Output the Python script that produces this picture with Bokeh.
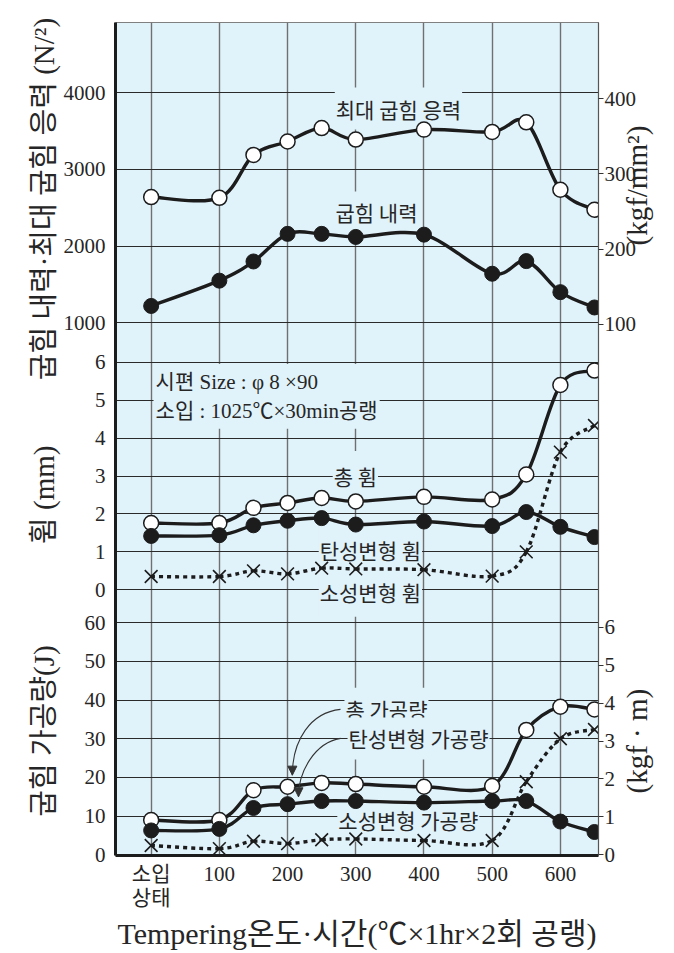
from bokeh.plotting import figure
from bokeh.models import Range1d, LinearAxis, FixedTicker, Label, Arrow, NormalHead
from bokeh.embed import file_html
from bokeh.resources import INLINE
import math

# ---------------- data ----------------
temps = [0, 100, 150, 200, 250, 300, 400, 500, 550, 600, 650]

max_bending_stress = [2640, 2630, 3190, 3365, 3540, 3390, 3520, 3490, 3615, 2735, 2475]   # N/mm2
bending_yield = [1220, 1550, 1800, 2160, 2160, 2120, 2150, 1640, 1805, 1400, 1200]        # N/mm2

total_defl = [1.76, 1.76, 2.16, 2.29, 2.42, 2.33, 2.45, 2.38, 3.04, 5.40, 5.78]            # mm
elastic_defl = [1.42, 1.44, 1.70, 1.82, 1.89, 1.72, 1.80, 1.68, 2.05, 1.66, 1.39]
plastic_defl = [0.35, 0.35, 0.50, 0.42, 0.57, 0.55, 0.53, 0.36, 1.00, 3.63, 4.33]

total_work = [9.0, 9.0, 16.7, 17.6, 18.6, 18.3, 17.6, 17.8, 32.3, 38.3, 37.6]              # J
elastic_work = [6.3, 6.7, 12.1, 13.1, 13.9, 13.9, 13.5, 13.9, 13.9, 8.6, 5.9]
plastic_work = [2.4, 1.6, 3.5, 2.9, 3.9, 4.1, 3.7, 3.7, 18.9, 30.0, 32.4]

x_ticks = [0, 100, 200, 300, 400, 500, 600]
x_tick_labels = ["소입\n상태", "100", "200", "300", "400", "500", "600"]
str_ticks = [1000, 2000, 3000, 4000]
mm_ticks = [0, 1, 2, 3, 4, 5, 6]
j_ticks = [0, 10, 20, 30, 40, 50, 60]
kgf_mm2_ticks = [100, 200, 300, 400]
kgf_m_ticks = [0, 1, 2, 3, 4, 5, 6]
KGF = 9.80665

# ---------------- layout / style ----------------
BG = "#e0f2fa"
INK = "#1c1c1c"
TXT = "#262626"
KR = "Noto Sans CJK KR"
SERIF = "Liberation Serif"
MIX = "Liberation Serif, Noto Sans CJK KR"
IS = "\u3000"   # ideographic space (does not collapse in SVG)
NB = "\u00a0"

# frame occupies canvas rows 22..855
FRAME_TOP, FRAME_BOTTOM = 22, 855
STR_RANGE = (-5948.0, 4917.0)
MM_RANGE = (-7.005, 14.956)
J_RANGE = (-0.18, 215.25)


def frac(v, rng):
    return round((v - rng[0]) / (rng[1] - rng[0]), 6)


def frac_px(y):  # canvas row -> fraction of frame height
    return round((FRAME_BOTTOM - y) / (FRAME_BOTTOM - FRAME_TOP), 6)


p = figure(width=674, height=953, output_backend="svg", toolbar_location=None,
           x_range=Range1d(-52.3, 655.9), y_range=Range1d(0, 1),
           min_border_left=115, min_border_right=76, min_border_top=FRAME_TOP,
           min_border_bottom=953 - FRAME_BOTTOM,
           background_fill_color=BG, border_fill_color="white",
           outline_line_color="#808080", outline_line_width=1)
p.extra_y_ranges = {"str": Range1d(*STR_RANGE), "mm": Range1d(*MM_RANGE), "J": Range1d(*J_RANGE)}

# left axis: three stacked scales
left_pos, left_lab = [], {}
for vals, rng in ((str_ticks, STR_RANGE), (mm_ticks, MM_RANGE), (j_ticks, J_RANGE)):
    for v in vals:
        f = frac(v, rng)
        left_pos.append(f)
        left_lab[f] = str(v)
ya = p.yaxis[0]
ya.ticker = FixedTicker(ticks=left_pos)
ya.major_label_overrides = left_lab
ya.axis_line_width = 3
ya.axis_line_color = INK
ya.major_tick_line_color = None
ya.minor_tick_line_color = None
ya.major_label_text_font = SERIF
ya.major_label_text_font_size = "21px"
ya.major_label_text_color = TXT
ya.major_label_standoff = 4
ya.axis_label = (IS + NB * 2 + "굽힘 가공량(J)" + IS * 3 + NB * 2 + "휨 (mm)" + IS * 2 + NB
                 + "굽힘 내력·최대 굽힘 응력 (N/²)")
ya.axis_label_text_font = MIX
ya.axis_label_text_font_size = "29px"
ya.axis_label_text_font_style = "normal"
ya.axis_label_text_color = TXT
ya.axis_label_standoff = 1

# right axis: kgf/mm2 (top) and kgf.m (bottom)
right_pos, right_lab = [], {}
for v in kgf_mm2_ticks:
    f = frac(v * KGF, STR_RANGE)
    right_pos.append(f)
    right_lab[f] = str(v)
for v in kgf_m_ticks:
    f = frac(v * KGF, J_RANGE)
    right_pos.append(f)
    right_lab[f] = str(v)
ra = LinearAxis(ticker=FixedTicker(ticks=right_pos), major_label_overrides=right_lab)
ra.axis_line_color = "#555555"
ra.axis_line_width = 1.2
ra.major_tick_out = 5
ra.major_tick_in = 0
ra.major_tick_line_color = "#333333"
ra.major_tick_line_width = 1.2
ra.minor_tick_line_color = None
ra.major_label_text_font = SERIF
ra.major_label_text_font_size = "21px"
ra.major_label_text_color = TXT
ra.major_label_standoff = 1
p.add_layout(ra, "right")

# right-hand unit titles (upright reading bottom-to-top), carried by a bare axis
unit_titles = ["(kgf" + NB + "·" + NB + "m)", "(kgf/mm²)"]
unit_title_start_rows = [793, 245]   # canvas row where each title begins
ut_pos = [frac_px(r) for r in unit_title_start_rows]
ra2 = LinearAxis(ticker=FixedTicker(ticks=ut_pos),
                 major_label_overrides={f: t for f, t in zip(ut_pos, unit_titles)})
ra2.axis_line_color = None
ra2.major_tick_line_color = None
ra2.minor_tick_line_color = None
ra2.major_label_orientation = math.pi / 2
ra2.major_label_text_font = MIX
ra2.major_label_text_font_size = "29px"
ra2.major_label_text_color = TXT
ra2.major_label_standoff = -8
p.add_layout(ra2, "right")

# x axis
xa = p.xaxis[0]
xa.ticker = FixedTicker(ticks=x_ticks)
xa.major_label_overrides = {t: l for t, l in zip(x_ticks, x_tick_labels)}
xa.axis_line_width = 3
xa.axis_line_color = INK
xa.major_tick_line_color = None
xa.minor_tick_line_color = None
xa.major_label_text_font = MIX
xa.major_label_text_font_size = "21px"
xa.major_label_text_color = TXT
xa.major_label_text_line_height = 1.0
xa.major_label_standoff = 0
xa.axis_label = "Tempering온도·시간(℃×1hr×2회 공랭)"
xa.axis_label_text_font = MIX
xa.axis_label_text_font_size = "30px"
xa.axis_label_text_font_style = "normal"
xa.axis_label_text_color = TXT
xa.axis_label_standoff = 4

# grids (drawn first so that text boxes can cover them)
p.ygrid.ticker = FixedTicker(ticks=left_pos)
p.ygrid.grid_line_color = "#2a2a2a"
p.ygrid.grid_line_width = 1
p.ygrid.level = "image"
p.xgrid.ticker = FixedTicker(ticks=x_ticks)
p.xgrid.grid_line_color = "#707070"
p.xgrid.grid_line_width = 1.4
p.xgrid.level = "image"


# smooth curves through the data points (Catmull-Rom -> cubic Bezier)
def smooth(xs, ys, rng, dash="solid", width=3.4):
    n = len(xs)
    d = {k: [] for k in ("x0", "y0", "x1", "y1", "cx0", "cy0", "cx1", "cy1")}
    for i in range(n - 1):
        ip, i2 = max(i - 1, 0), min(i + 2, n - 1)
        d["x0"].append(xs[i]); d["y0"].append(ys[i])
        d["x1"].append(xs[i + 1]); d["y1"].append(ys[i + 1])
        d["cx0"].append(xs[i] + (xs[i + 1] - xs[ip]) / 6)
        d["cy0"].append(ys[i] + (ys[i + 1] - ys[ip]) / 6)
        d["cx1"].append(xs[i + 1] - (xs[i2] - xs[i]) / 6)
        d["cy1"].append(ys[i + 1] - (ys[i2] - ys[i]) / 6)
    p.bezier(line_color=INK, line_width=width, line_dash=dash, y_range_name=rng, **d)


def points(xs, ys, rng, kind):
    if kind == "open":
        p.scatter(xs, ys, marker="circle", size=15, fill_color="white",
                  line_color=INK, line_width=1.5, y_range_name=rng)
    elif kind == "filled":
        p.scatter(xs, ys, marker="circle", size=15, fill_color=INK,
                  line_color=INK, line_width=1.0, y_range_name=rng)
    else:
        p.scatter(xs, ys, marker="x", size=18, line_color=INK,
                  line_width=1.6, y_range_name=rng)


series = [
    (max_bending_stress, "str", "open", "solid"),
    (bending_yield, "str", "filled", "solid"),
    (total_defl, "mm", "open", "solid"),
    (elastic_defl, "mm", "filled", "solid"),
    (plastic_defl, "mm", "x", "4 4"),
    (total_work, "J", "open", "solid"),
    (elastic_work, "J", "filled", "solid"),
    (plastic_work, "J", "x", "4 4"),
]
for ys, rng, kind, dash in series:
    smooth(temps, ys, rng, dash=dash)
for ys, rng, kind, dash in series:
    points(temps, ys, rng, kind)

# curved leader arrows for the work curves
ARROW_PATHS = [  # (x0, y0, cx0, cy0, cx1, cy1, x1, y1) on the J scale
    (277.6, 37.6, 233.6, 36.8, 207.0, 29.6, 207.0, 20.6),
    (277.6, 30.1, 240.9, 29.0, 216.0, 21.8, 216.0, 15.0),
]
for a in ARROW_PATHS:
    p.bezier(x0=[a[0]], y0=[a[1]], cx0=[a[2]], cy0=[a[3]], cx1=[a[4]], cy1=[a[5]],
             x1=[a[6]], y1=[a[7]], line_color="#333333", line_width=1.1, y_range_name="J")
    p.add_layout(Arrow(x_start=a[4], y_start=a[5], x_end=a[6], y_end=a[7], y_range_name="J",
                       line_color=None,
                       end=NormalHead(size=9, fill_color="#333333", line_color="#333333")))


def tag(text, x, y, rng, align="center", size="21px", pad=(1, 6), font=KR):
    p.add_layout(Label(x=x, y=y, y_range_name=rng, text=text, text_align=align,
                       text_baseline="middle", text_font=font, text_font_size=size,
                       text_color=TXT, background_fill_color=BG, padding=pad,
                       level="underlay"))


tag("최대 굽힘 응력", 362.6, 3795, "str")
tag("굽힘 내력", 330.4, 2439, "str")
tag("시편 Size : φ 8 ×90\n소입 : 1025℃×30min공랭", 3.5, 5.10, "mm", align="left",
    size="21px", pad=(2, 6), font=MIX)
tag("총 휨", 299.4, 3.0, "mm", pad=(1, 10))
tag("탄성변형 휨", 321.4, 1.05, "mm", pad=(1, 10))
tag("소성변형 휨", 321.4, -0.05, "mm", pad=(1, 10))
tag("총 가공량", 345.0, 37.8, "J")
tag("탄성변형 가공량", 392.0, 30.1, "J")
tag("소성변형 가공량", 377.0, 8.9, "J")

open("out.html", "w").write(file_html(p, INLINE))
